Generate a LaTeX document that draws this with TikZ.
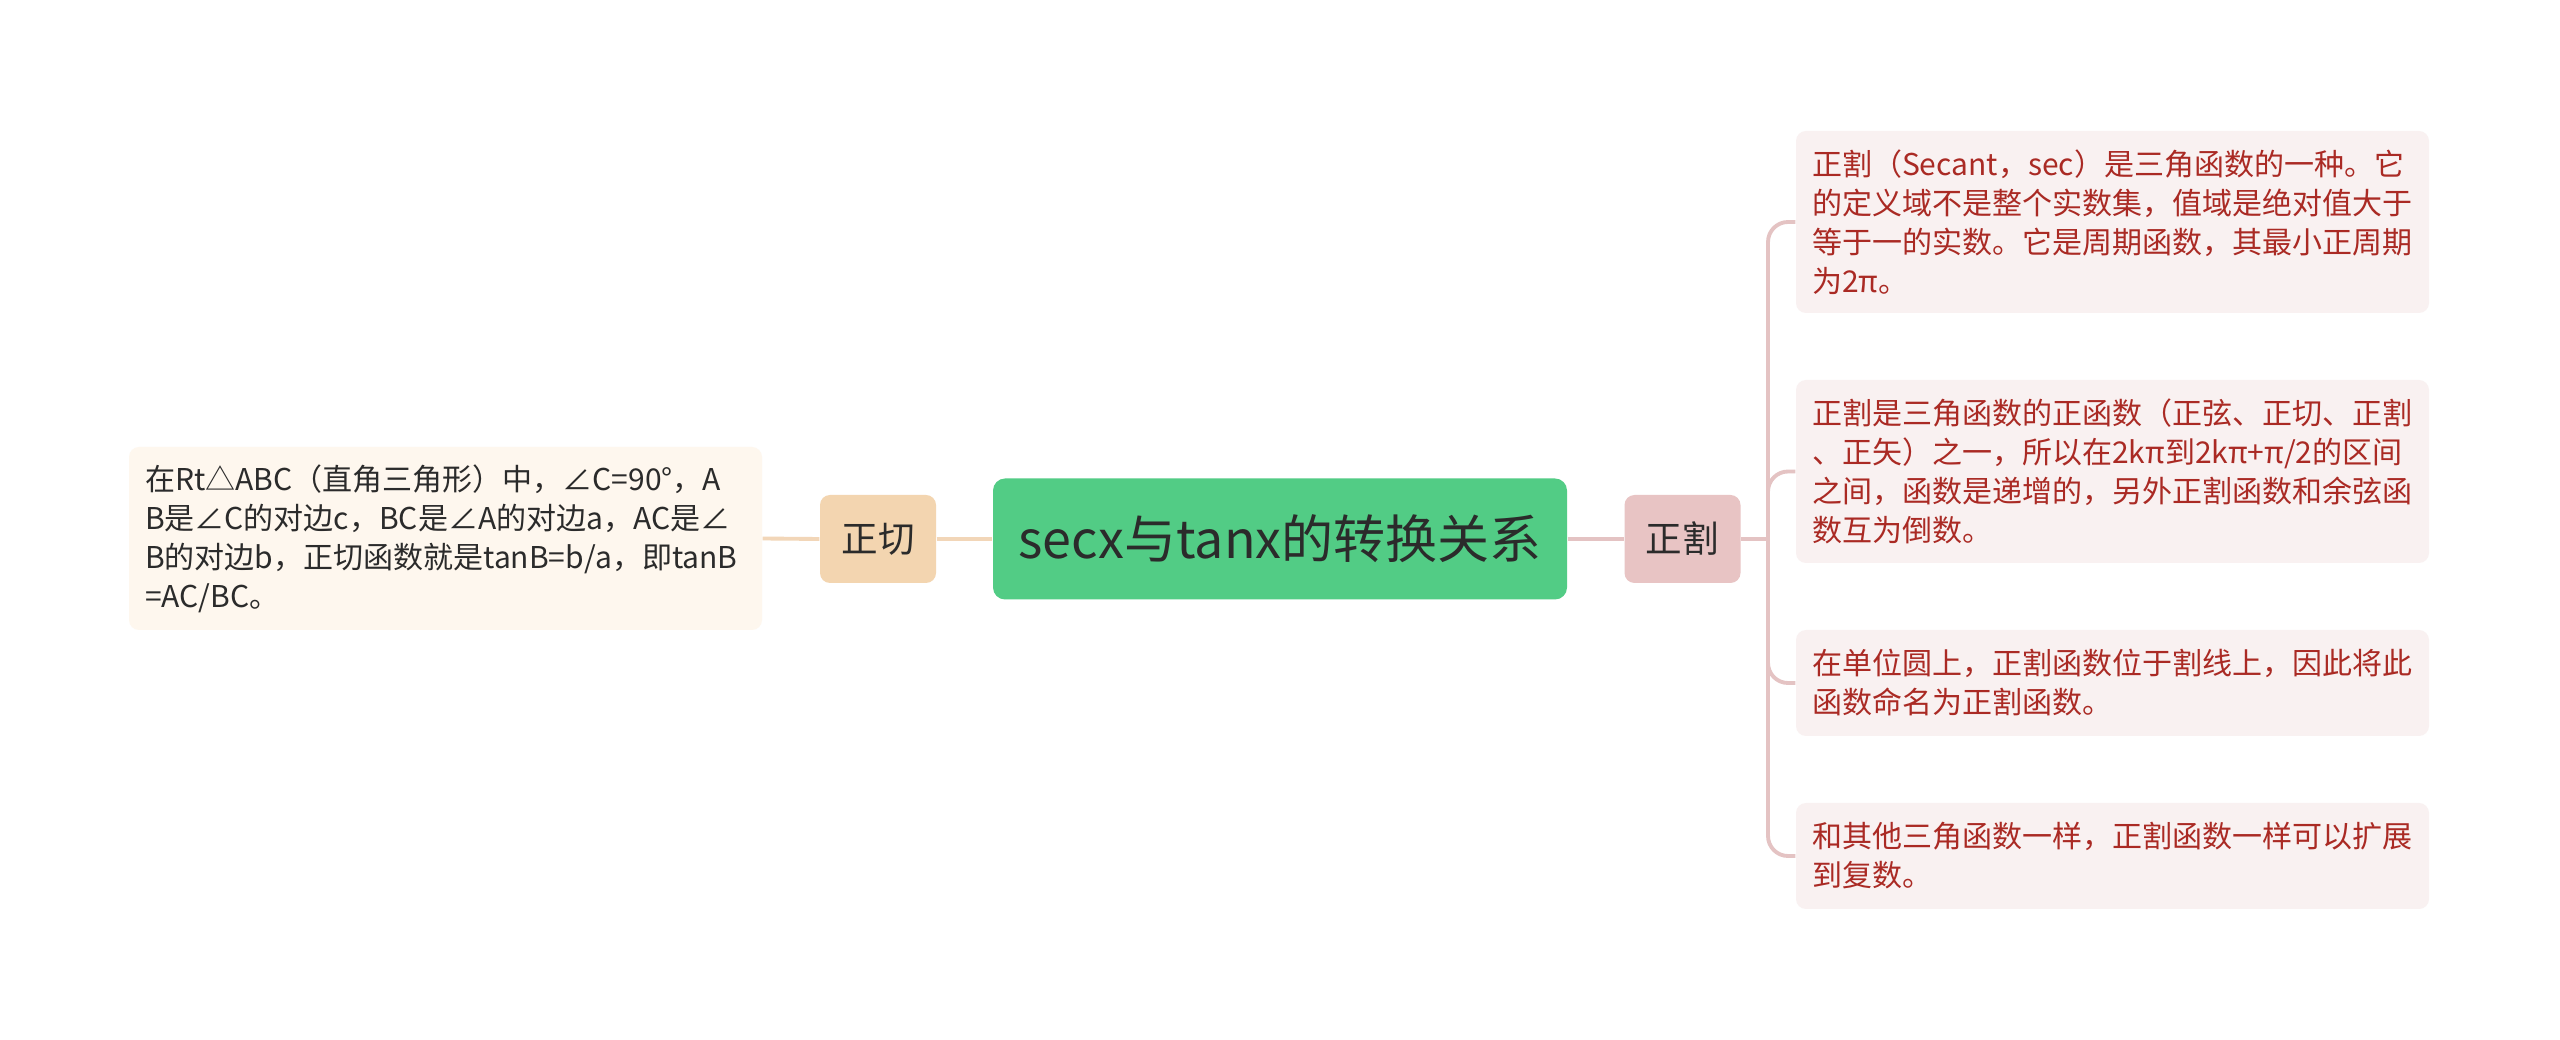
\documentclass[tikz,border=0pt]{standalone}
\usepackage{fontspec}
\setmainfont{Noto Sans CJK SC}
\definecolor{rootfill}{HTML}{52CC85}
\definecolor{textdark}{HTML}{2B2B2B}
\definecolor{tanfill}{HTML}{F3D5B0}
\definecolor{tanbox}{HTML}{FEF7EE}
\definecolor{tanline}{HTML}{F2D6B8}
\definecolor{secfill}{HTML}{E8C4C4}
\definecolor{secbox}{HTML}{F9F1F1}
\definecolor{secline}{HTML}{E4C3C3}
\definecolor{sectext}{HTML}{AA2A24}
\begin{document}
\begin{tikzpicture}[x=1cm,y=1cm,
  rootbox/.style={fill=rootfill, rounded corners=0.12cm, minimum width=5.74cm, minimum height=1.21cm, inner sep=0pt, font=\fontsize{14.8}{17}\selectfont, text=textdark},
  lvlbox/.style={rounded corners=0.1cm, minimum width=1.16cm, minimum height=0.88cm, inner sep=0pt, font=\fontsize{10.4}{12}\selectfont, text=textdark},
  leafbox/.style={rounded corners=0.1cm, minimum width=6.33cm, text width=6.01cm, inner xsep=0.16cm, align=left, font=\fontsize{8.54}{11.1}\selectfont},
  tanleaf/.style={leafbox, fill=tanbox, text=textdark},
  secleaf/.style={leafbox, fill=secbox, text=sectext},
  tanconn/.style={draw=tanline, line width=1.1pt},
  secconn/.style={draw=secline, line width=1.1pt, rounded corners=0.2cm}
]
\useasboundingbox[fill=white] (0,0) rectangle (25.6,-10.4);

\node[rootbox] (root) at (12.80,-5.39) {secx与tanx的转换关系};
\node[lvlbox, fill=tanfill] (zq) at (8.78,-5.39) {正切};
\node[lvlbox, fill=secfill] (zg) at (16.825,-5.39) {正割};

\node[tanleaf, minimum height=1.83cm] (lb) at (4.455,-5.385) {在Rt△ABC（直角三角形）中，∠C=90°，A\\B是∠C的对边c，BC是∠A的对边a，AC是∠\\B的对边b，正切函数就是tanB=b/a，即tanB\\=AC/BC。};

\node[secleaf, minimum height=1.82cm] (b1) at (21.125,-2.22) {正割（Secant，sec）是三角函数的一种。它\\的定义域不是整个实数集，值域是绝对值大于\\等于一的实数。它是周期函数，其最小正周期\\为2π。};
\node[secleaf, minimum height=1.83cm] (b2) at (21.125,-4.715) {正割是三角函数的正函数（正弦、正切、正割\\、正矢）之一，所以在2kπ到2kπ+π/2的区间\\之间，函数是递增的，另外正割函数和余弦函\\数互为倒数。};
\node[secleaf, minimum height=1.06cm] (b3) at (21.125,-6.83) {在单位圆上，正割函数位于割线上，因此将此\\函数命名为正割函数。};
\node[secleaf, minimum height=1.06cm] (b4) at (21.125,-8.56) {和其他三角函数一样，正割函数一样可以扩展\\到复数。};

\draw[tanconn] (lb.east) -- (zq.west);
\draw[tanconn] (zq.east) -- (root.west);
\draw[secconn] (root.east) -- (zg.west);
\coordinate (br) at (17.68,-5.39);
\draw[secconn] (zg.east) -- (br);
\draw[secconn] (br) |- (b1.west);
\draw[secconn] (br) |- (b2.west);
\draw[secconn] (br) |- (b3.west);
\draw[secconn] (br) |- (b4.west);
\end{tikzpicture}
\end{document}
